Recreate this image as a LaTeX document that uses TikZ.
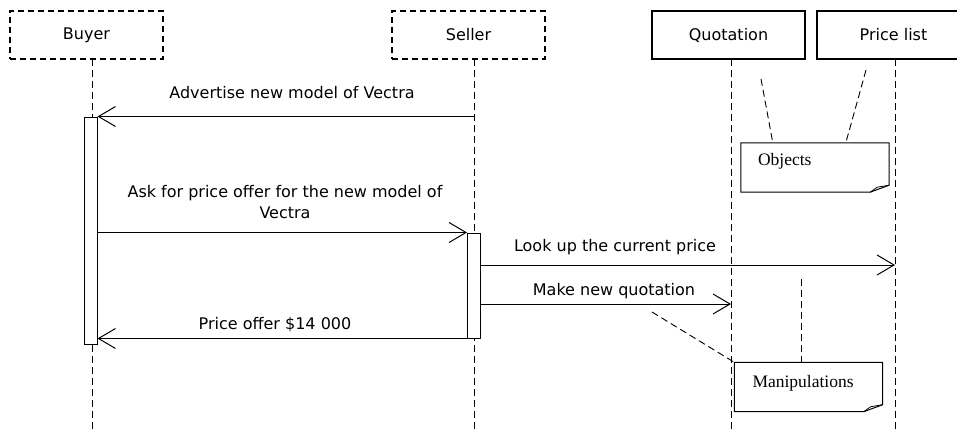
\documentclass[tikz,border=0pt]{standalone}
\usepackage{fontspec}
\setmainfont{DejaVu Sans}
\newfontfamily\notefont{Liberation Serif}
\usetikzlibrary{arrows.meta, positioning, calc}
\tikzset{
	objbox/.style   ={rectangle, draw=black, line width=1.1pt, minimum width=153pt, minimum height=48pt, inner sep=0pt, font=\fontsize{16}{19}\selectfont},
	actorbox/.style ={objbox, line width=1.4pt, dash pattern=on 6pt off 4pt},
	lifeline/.style ={line width=0.9pt, dash pattern=on 7pt off 4pt},
	actbar/.style   ={rectangle, draw=black, line width=1pt, fill=white, minimum width=13pt, inner sep=0pt},
	msg/.style      ={-{Straight Barb[length=17pt, width=20pt, line width=1pt]}, line width=1pt},
	msglabel/.style ={align=center, inner sep=0pt, font=\fontsize{16}{21}\selectfont},
	notebox/.style  ={rectangle, minimum width=148pt, minimum height=49pt, inner sep=0pt},
	notetext/.style ={anchor=west, inner sep=0pt, font=\notefont\fontsize{17.5}{20}\selectfont},
	noteline/.style ={line width=0.9pt, dash pattern=on 7pt off 4pt},
}
% note outline with the folded lower right corner
\newcommand{\umlNote}[1]{%
	\draw[line width=1pt] (#1.north west) -- (#1.north east) -- ($(#1.south east)+(0,-7)$)
		-- ($(#1.south east)+(-19,0)$) -- (#1.south west) -- cycle;
	\draw[line width=0.8pt] ($(#1.south east)+(-19,0)$) -- ($(#1.south east)+(-12,-5)$) -- ($(#1.south east)+(0,-7)$);}

\begin{document}
\begin{tikzpicture}[x=1pt, y=-1pt]
	\useasboundingbox[fill=white] (0,0) rectangle (957,431);
	\clip (0,0) rectangle (957,431);
	% heads
	\node[actorbox] (buyer) at (86.5,35) {Buyer};
	\node[actorbox] (seller) at (468.5,35) {Seller};
	\node[objbox] (quot) at (728.5,35) {Quotation};
	\node[objbox] (price) at (893.5,35) {Price list};
	% lifelines
	\coordinate (buyL) at (92,59);
	\coordinate (selL) at (474,59);
	\coordinate (quoL) at (731,59);
	\coordinate (priL) at (895,59);
	\foreach \l in {buyL, selL, quoL, priL}
		\draw[lifeline] (\l) -- (\l |- 0,431);
	% activations
	\node[actbar, minimum height=227pt] (buyact) at (90.5,230.5) {};
	\node[actbar, minimum height=105pt] (selact) at (474,285.5) {};
	% messages
	\draw[msg] (selL |- buyact.north) -- (buyact.north east);
	\node[msglabel] (m1) at (292,93) {Advertise new model of Vectra};
	\draw[msg] (buyact.east |- selact.north) -- (selact.north west);
	\node[msglabel] (m2) at (285,202) {Ask for price offer for the new model of\\Vectra};
	\draw[msg] (selact.east |- 0,265) -- (priL |- 0,265);
	\node[msglabel] (m3) at (615,247) {Look up the current price};
	\draw[msg] (selact.east |- 0,304) -- (quoL |- 0,304);
	\node[msglabel] (m4) at (614,291) {Make new quotation};
	\draw[msg] (selact.south west) -- (buyact.east |- selact.south);
	\node[msglabel] (m5) at (275,325) {Price offer \$14 000};
	% note: objects
	\node[notebox] (objnote) at (815,167.5) {};
	\umlNote{objnote}
	\node[notetext] (objtxt) at ($(objnote.west)+(17,-6)$) {Objects};
	\coordinate (objA) at (761,79);
	\coordinate (objB) at (866,70);
	\draw[noteline] (objA) -- ($(objnote.north west)+(32,0)$);
	\draw[noteline] (objB) -- ($(objnote.north west)+(105,0)$);
	% note: manipulations
	\node[notebox] (manote) at (808.5,387) {};
	\umlNote{manote}
	\node[notetext] (matxt) at ($(manote.west)+(18,-4)$) {Manipulations};
	\coordinate (maA) at (652,312);
	\coordinate (maB) at (801,279);
	\draw[noteline] (maA) -- (manote.north west);
	\draw[noteline] (maB) -- (maB |- manote.north);
\end{tikzpicture}
\end{document}
